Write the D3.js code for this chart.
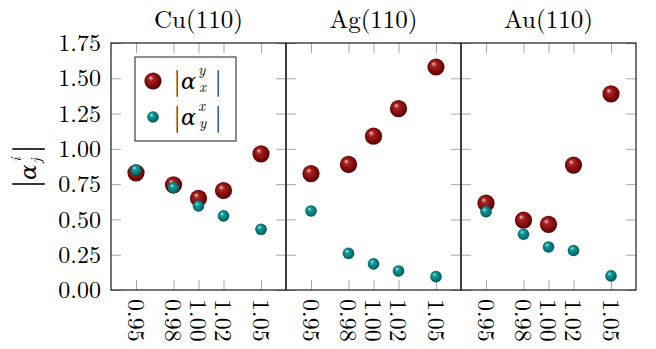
<!DOCTYPE html>
<html>
<head>
<meta charset="utf-8">
<script src="https://cdn.jsdelivr.net/npm/d3@7"></script>
<style>
  body { margin: 0; background: #fff; }
  text { font-family: "Latin Modern Roman", "CMU Serif", "Liberation Serif", serif; fill: #000; }
  text.greek { font-family: "DejaVu Serif", serif; font-style: italic; }
</style>
</head>
<body>
<script>
// data
var panels = ['Cu(110)', 'Ag(110)', 'Au(110)']
var strain = [0.95, 0.98, 1.00, 1.02, 1.05]
var xTicks = ['0.95', '0.98', '1.00', '1.02', '1.05']
var yTicks = [0, 0.25, 0.5, 0.75, 1.0, 1.25, 1.5, 1.75]

// |alpha_x^y| (big red balls)
var axyCu = [0.83, 0.745, 0.65, 0.705, 0.965]
var axyAg = [0.825, 0.89, 1.09, 1.285, 1.58]
var axyAu = [0.615, 0.495, 0.465, 0.885, 1.39]

// |alpha_y^x| (small teal balls)
var ayxCu = [0.85, 0.725, 0.595, 0.525, 0.43]
var ayxAg = [0.56, 0.26, 0.185, 0.135, 0.095]
var ayxAu = [0.555, 0.395, 0.305, 0.28, 0.10]

var red = [axyCu, axyAg, axyAu]
var teal = [ayxCu, ayxAg, ayxAu]

// layout
var W = 656, H = 349
var mLeft = 111, mTop = 43, pw = 175, ph = 247

var svg = d3.select('body').append('svg')
  .attr('width', W).attr('height', H)

// shaded ball gradients
var defs = svg.append('defs')
function ball (id, c0, c1, c2, c3) {
  var g = defs.append('radialGradient').attr('id', id)
    .attr('cx', '0.5').attr('cy', '0.5').attr('r', '0.6')
    .attr('fx', '0.35').attr('fy', '0.3')
  g.append('stop').attr('offset', '0%').attr('stop-color', c0)
  g.append('stop').attr('offset', '25%').attr('stop-color', c1)
  g.append('stop').attr('offset', '65%').attr('stop-color', c2)
  g.append('stop').attr('offset', '100%').attr('stop-color', c3)
}
ball('ballRed', '#f2c6c6', '#a82222', '#7c0a0a', '#3a0000')
ball('ballTeal', '#c8f4f4', '#1a9c9c', '#047676', '#003c3c')

var x = d3.scaleLinear().domain([0.93, 1.07]).range([0, pw])
var y = d3.scaleLinear().domain([0, 1.75]).range([ph, 0])

panels.forEach(function (name, p) {
  var g = svg.append('g')
    .attr('transform', 'translate(' + (mLeft + p * pw) + ',' + mTop + ')')

  // ticks (inside, gray) on all four sides
  g.append('g').attr('transform', 'translate(0,' + ph + ')')
    .call(d3.axisBottom(x).tickValues(strain).tickSize(-10).tickFormat(''))
  g.append('g')
    .call(d3.axisTop(x).tickValues(strain).tickSize(-10).tickFormat(''))
  g.append('g')
    .call(d3.axisLeft(y).tickValues(yTicks).tickSize(-10).tickFormat(''))
  g.append('g').attr('transform', 'translate(' + pw + ',0)')
    .call(d3.axisRight(y).tickValues(yTicks).tickSize(-10).tickFormat(''))
  g.selectAll('.domain').remove()
  g.selectAll('.tick line').attr('stroke', '#a8a8a8').attr('stroke-width', 1)

  // rotated x tick labels
  g.selectAll('.xlab').data(strain).enter().append('text')
    .attr('class', 'xlab')
    .attr('transform', function (d) { return 'translate(' + x(d) + ',' + (ph + 9) + ') rotate(90)' })
    .attr('dy', '0.34em')
    .style('font-size', '24px')
    .text(function (d, i) { return xTicks[i] })

  // title
  g.append('text')
    .attr('x', pw / 2).attr('y', -15)
    .attr('text-anchor', 'middle')
    .style('font-size', '25px')
    .text(name)

  // points: red first, teal on top
  g.selectAll('.r').data(strain).enter().append('circle')
    .attr('cx', function (d) { return x(d) })
    .attr('cy', function (d, i) { return y(red[p][i]) })
    .attr('r', 8.6)
    .attr('fill', 'url(#ballRed)')
  g.selectAll('.t').data(strain).enter().append('circle')
    .attr('cx', function (d) { return x(d) })
    .attr('cy', function (d, i) { return y(teal[p][i]) })
    .attr('r', 5.8)
    .attr('fill', 'url(#ballTeal)')

  // frame
  g.append('rect')
    .attr('width', pw).attr('height', ph)
    .attr('fill', 'none').attr('stroke', '#1a1a1a').attr('stroke-width', 1.2)
})

// y tick labels (first panel only)
svg.append('g').selectAll('text').data(yTicks).enter().append('text')
  .attr('x', mLeft - 10)
  .attr('y', function (d) { return mTop + y(d) })
  .attr('dy', '0.34em')
  .attr('text-anchor', 'end')
  .style('font-size', '24px')
  .text(function (d) { return d3.format('.2f')(d) })

// y axis label |alpha_j^i|
var yl = svg.append('g').attr('transform', 'translate(29,166) rotate(-90)')
yl.append('text').attr('x', -18).attr('y', 8).attr('text-anchor', 'middle')
  .style('font-size', '34px').text('|')
yl.append('text').attr('x', 17).attr('y', 8).attr('text-anchor', 'middle')
  .style('font-size', '34px').text('|')
yl.append('text').attr('class', 'greek').attr('x', -14).attr('y', 7)
  .style('font-size', '23px').text('α')
yl.append('text').attr('x', 4).attr('y', -8)
  .style('font-size', '15px').style('font-style', 'italic').text('i')
yl.append('text').attr('x', 3).attr('y', 12)
  .style('font-size', '15px').style('font-style', 'italic').text('j')

// legend
var lg = svg.append('g').attr('transform', 'translate(135,57)')
lg.append('rect').attr('width', 101).attr('height', 84)
  .attr('fill', '#fff').attr('stroke', '#1a1a1a').attr('stroke-width', 1)

var legendRows = [
  {fill: 'url(#ballRed)', r: 8.6, sup: 'y', sub: 'x', cy: 24},
  {fill: 'url(#ballTeal)', r: 5.8, sup: 'x', sub: 'y', cy: 60}
]
legendRows.forEach(function (row) {
  var base = row.cy + 8
  lg.append('circle').attr('cx', 18).attr('cy', row.cy).attr('r', row.r)
    .attr('fill', row.fill)
  lg.append('text').attr('x', 42).attr('y', base + 1).attr('text-anchor', 'middle')
    .style('font-size', '26px').text('|')
  lg.append('text').attr('class', 'greek').attr('x', 46).attr('y', base)
    .style('font-size', '22px').text('α')
  lg.append('text').attr('x', 63).attr('y', base - 14)
    .style('font-size', '15px').style('font-style', 'italic').text(row.sup)
  lg.append('text').attr('x', 64).attr('y', base + 3)
    .style('font-size', '15px').style('font-style', 'italic').text(row.sub)
  lg.append('text').attr('x', 83).attr('y', base + 1).attr('text-anchor', 'middle')
    .style('font-size', '26px').text('|')
})
</script>
</body>
</html>
